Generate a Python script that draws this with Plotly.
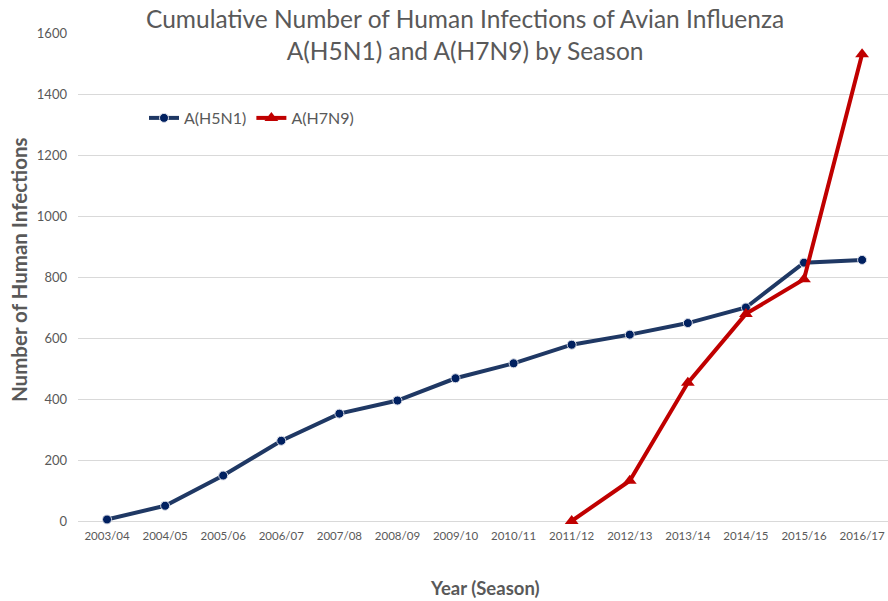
import plotly.graph_objects as go

seasons = ["2003/04", "2004/05", "2005/06", "2006/07", "2007/08", "2008/09", "2009/10",
           "2010/11", "2011/12", "2012/13", "2013/14", "2014/15", "2015/16", "2016/17"]
h5n1 = [5, 50, 149, 263, 352, 395, 468, 517, 578, 611, 649, 700, 847, 856]
h7n9_seasons = ["2011/12", "2012/13", "2013/14", "2014/15", "2015/16", "2016/17"]
h7n9 = [0, 132, 453, 679, 793, 1530]
y_ticks = [0, 200, 400, 600, 800, 1000, 1200, 1400, 1600]

W, H = 888, 601
L, R, T, B = 78, 888, 33, 521

def px(x):
    return (x - L) / (R - L)

def py(y):
    return (B - y) / (B - T)

FONT = "Lato"
GRAY = "#595959"

fig = go.Figure()
fig.add_trace(go.Scatter(
    x=seasons, y=h5n1, name="A(H5N1)", mode="lines+markers",
    line=dict(color="#1f3864", width=4),
    marker=dict(symbol="circle", size=9, color="#002060", line=dict(color="#d9dce6", width=1)),
    cliponaxis=False,
))
fig.add_trace(go.Scatter(
    x=h7n9_seasons, y=h7n9, name="A(H7N9)", mode="lines+markers",
    line=dict(color="#c00000", width=4),
    marker=dict(symbol="triangle-up", size=12, color="#c00000"),
    cliponaxis=False,
))

fig.update_layout(
    width=W, height=H,
    margin=dict(l=L, r=W - R, t=T, b=H - B),
    plot_bgcolor="white", paper_bgcolor="white",
    font=dict(family=FONT, color=GRAY),
    showlegend=True,
    legend=dict(orientation="h", x=px(144), y=py(118), xanchor="left", yanchor="middle",
                font=dict(size=16, color=GRAY, family=FONT), bgcolor="rgba(0,0,0,0)",
                itemwidth=30, tracegroupgap=0),
    xaxis=dict(categoryorder="array", categoryarray=seasons,
               range=[-0.5, -0.5 + (R - L) / 58.08],
               showgrid=False, showline=False, zeroline=False,
               tickfont=dict(size=11.5, color=GRAY, family=FONT), ticks="",
               ticklabelstandoff=6, ticklabeloverflow="allow"),
    yaxis=dict(range=[0, 1600], tickvals=y_ticks, showgrid=True, gridcolor="#d9d9d9",
               gridwidth=1, zeroline=True, zerolinecolor="#d9d9d9", zerolinewidth=1,
               showline=False, tickfont=dict(size=13, color=GRAY, family=FONT), ticks="",
               ticklabelstandoff=10),
    annotations=[
        dict(text="Cumulative Number of Human Infections of Avian Influenza<br>A(H5N1) and A(H7N9) by Season",
             x=px(465), y=py(35), xref="paper", yref="paper", showarrow=False,
             xanchor="center", yanchor="middle", font=dict(size=24.5, color=GRAY, family=FONT)),
        dict(text="<b>Year (Season)</b>", x=px(485), y=py(588), xref="paper", yref="paper",
             showarrow=False, xanchor="center", yanchor="middle",
             font=dict(size=18.5, color=GRAY, family=FONT)),
        dict(text="<b>Number of Human Infections</b>", x=px(19), y=py(270), xref="paper", yref="paper",
             showarrow=False, xanchor="center", yanchor="middle", textangle=-90,
             font=dict(size=20.5, color=GRAY, family=FONT)),
    ],
)

fig.write_html(
    "out.html",
    config={"displayModeBar": False},
    post_script="document.body.style.margin='0';document.body.style.overflow='hidden';"
                "document.documentElement.style.overflow='hidden';",
)
